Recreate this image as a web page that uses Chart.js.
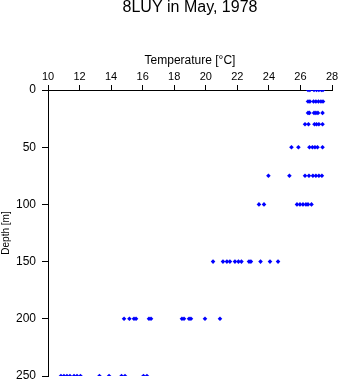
<!DOCTYPE html>
<html>
<head>
<meta charset="utf-8">
<script src="https://cdn.jsdelivr.net/npm/chart.js@4"></script>
<style>
  html, body { margin: 0; padding: 0; background: #fff; }
  #wrap { width: 341px; height: 384px; }
</style>
</head>
<body>
<div id="wrap"><canvas id="c" width="341" height="384"></canvas></div>
<script>
// Depth levels [m] and temperatures [°C] read at each level
const depthLevels = [0, 10, 20, 30, 50, 75, 100, 150, 200, 250];
const temps0   = [26.48, 26.60, 26.86, 27.02, 27.17, 27.33, 27.43];
const temps10  = [26.48, 26.60, 26.83, 26.98, 27.14, 27.30, 27.43];
const temps20  = [26.48, 26.57, 26.86, 26.98, 27.11, 27.40];
const temps30  = [26.29, 26.51, 26.89, 27.02, 27.17, 27.40];
const temps50  = [25.43, 25.87, 26.57, 26.76, 26.92, 27.08, 27.40];
const temps75  = [23.97, 25.30, 26.29, 26.54, 26.79, 26.98, 27.17, 27.36];
const temps100 = [23.37, 23.69, 25.78, 25.97, 26.16, 26.35, 26.48, 26.70];
const temps150 = [20.46, 21.09, 21.34, 21.53, 21.85, 22.07, 22.26, 22.74, 22.86, 23.47, 24.07, 24.58];
const temps200 = [14.82, 15.16, 15.45, 15.58, 16.40, 16.53, 18.49, 18.62, 18.94, 19.06, 19.95, 20.90];
const temps250 = [10.82, 11.01, 11.20, 11.39, 11.65, 11.84, 12.06, 13.26, 13.87, 14.66, 14.88, 16.05, 16.27];
const tempsByLevel = [temps0, temps10, temps20, temps30, temps50, temps75, temps100, temps150, temps200, temps250];

const xTicks = [10, 12, 14, 16, 18, 20, 22, 24, 26, 28];
const yTicks = [0, 50, 100, 150, 200, 250];
const titleText = '8LUY in May, 1978';
const xTitle = 'Temperature [°C]';
const yTitle = 'Depth [m]';

const points = [];
depthLevels.forEach((d, i) => {
  tempsByLevel[i].forEach(t => points.push({ x: t, y: d }));
});

const FONT = "'Liberation Sans', Arial, Helvetica, sans-serif";

new Chart(document.getElementById('c'), {
  type: 'scatter',
  data: {
    datasets: [{
      data: points,
      backgroundColor: '#0000ff',
      borderColor: '#0000ff',
      borderWidth: 0,
      pointStyle: 'rectRot',
      pointRadius: 2.3,
      pointHoverRadius: 2.3
    }]
  },
  options: {
    responsive: false,
    animation: false,
    events: [],
    layout: { padding: 0 },
    plugins: {
      legend: { display: false },
      tooltip: { enabled: false },
      title: {
        display: true,
        fullSize: false,
        text: titleText,
        color: '#000',
        font: { family: FONT, size: 16, weight: 'normal', lineHeight: '16px' },
        padding: { top: 0, bottom: 0 }
      }
    },
    scales: {
      x: {
        type: 'linear',
        position: 'top',
        min: 10,
        max: 28,
        afterBuildTicks: s => { s.ticks = xTicks.map(v => ({ value: v })); },
        afterFit: s => { s.height = 74; s.paddingLeft = 0; s.paddingRight = 9; },
        ticks: {
          color: '#000',
          font: { family: FONT, size: 11 },
          padding: 1,
          maxRotation: 0,
          autoSkip: false
        },
        grid: {
          display: true,
          drawOnChartArea: false,
          drawTicks: true,
          tickLength: 5,
          color: '#000',
          lineWidth: 1
        },
        border: { display: true, color: '#000', width: 1 },
        title: {
          display: true,
          text: xTitle,
          color: '#000',
          font: { family: FONT, size: 12, lineHeight: '14px' },
          padding: { top: 38, bottom: 0 }
        }
      },
      y: {
        type: 'linear',
        position: 'left',
        reverse: true,
        min: 0,
        max: 250,
        afterBuildTicks: s => { s.ticks = yTicks.map(v => ({ value: v })); },
        afterFit: s => { s.width = 48; s.paddingTop = 0; s.paddingBottom = 8; },
        ticks: {
          color: '#000',
          font: { family: FONT, size: 12 },
          padding: 6,
          autoSkip: false
        },
        grid: {
          display: true,
          drawOnChartArea: false,
          drawTicks: true,
          tickLength: 6,
          color: '#000',
          lineWidth: 1
        },
        border: { display: true, color: '#000', width: 1 },
        title: {
          display: true,
          text: yTitle,
          color: '#000',
          font: { family: FONT, size: 10, lineHeight: '12px' },
          padding: { top: 0, bottom: 0 }
        }
      }
    }
  }
});
</script>
</body>
</html>
